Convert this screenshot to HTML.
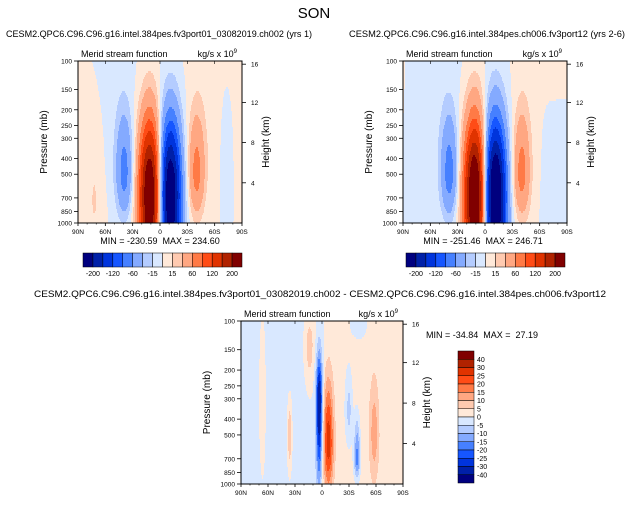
<!DOCTYPE html>
<html><head><meta charset="utf-8">
<style>
html,body{margin:0;padding:0;background:#fff;}
body{width:628px;height:504px;overflow:hidden;font-family:"Liberation Sans",sans-serif;}
svg text{font-family:"Liberation Sans",sans-serif;fill:#000;white-space:pre;}
</style></head>
<body>
<svg id="fig" width="628" height="504" viewBox="0 0 628 504" xmlns="http://www.w3.org/2000/svg">
<text x="314" y="18" font-size="15" text-anchor="middle">SON</text>
</svg>
<script>
// ---- data ----
const pressureTicks = [100,150,200,250,300,400,500,700,850,1000];
const heightTicks = [16,12,8,4];
const latTickValues = [90,60,30,0,-30,-60,-90];
const latTickLabels = ["90N","60N","30N","0","30S","60S","90S"];
const levelsAbs = [-200,-160,-120,-90,-60,-30,-15,0,15,30,60,90,120,160,200];
const levelLabelsAbs = ["-200","-120","-60","-15","15","60","120","200"];
const levelsDiff = [-40,-30,-25,-20,-15,-10,-5,0,5,10,15,20,25,30,40];
const levelLabelsDiff = ["40","30","25","20","15","10","5","0","-5","-10","-15","-20","-25","-30","-40"];
const palette = ["#00007f","#0020a8","#0034dc","#1656ff","#4680ff","#84aaff","#b4ccff","#d9e8ff","#ffe9d9","#ffcab0","#ffa782","#ff7a46","#ff4c16","#e03300","#b02200","#800000"];
// lobes: latitude centre, z centre (0=100mb,1=1000mb), amplitude, lat half-width, upward / downward z widths
const lobeLat1 = [11,-11,39,-40,45,-48,72,-72];
const lobeZ1   = [0.82,0.82,0.7,0.7,0.55,0.5,0.85,0.65];
const lobeAmp1 = [262,-258,-68,68,-7,7,16,-14];
const lobeW1   = [12,12,9,9,18,22,10,5];
const lobeUp1  = [0.45,0.45,0.36,0.36,3,3,0.45,0.35];
const lobeDn1  = [0.6,0.6,0.25,0.25,0.35,0.35,0.4,0.25];
const lobeLat2 = [11,-11,39,-40,55,-45,92,-82,-82];
const lobeZ2   = [0.82,0.82,0.7,0.7,0.5,0.5,0.0,0.0,0.75];
const lobeAmp2 = [275,-280,-72,68,-7,7,12,10,-15];
const lobeW2   = [12,12,9,9,30,15,3,15,15];
const lobeUp2  = [0.45,0.45,0.36,0.36,3,3,0.3,0.3,0.5];
const lobeDn2  = [0.6,0.6,0.25,0.25,0.5,0.5,0.3,0.3,0.8];
const lobeLatD = [50,-55,66,36,14,3,-7,-30,-39,-58,-42];
const lobeZD   = [0.5,0.5,0.5,0.7,0.15,0.5,0.75,0.55,0.85,0.7,0.0];
const lobeAmpD = [-4,4,8,12,9,-38,28,-9,-20,11,-8];
const lobeWD   = [40,35,4,3,6,3.5,6,4,3.5,4,10];
const lobeUpD  = [5,5,0.6,0.25,0.2,0.28,0.4,0.25,0.25,0.25,0.1];
const lobeDnD  = [5,5,0.5,0.25,0.25,0.45,0.3,0.2,0.12,0.2,0.12];
const stats = ["MIN = -230.59  MAX = 234.60","MIN = -251.46  MAX = 246.71","MIN = -34.84  MAX =  27.19"];

const NS="http://www.w3.org/2000/svg";
const svg=document.getElementById('fig');
function mk(tag,attrs,parent){const e=document.createElementNS(NS,tag);for(const k in attrs)e.setAttribute(k,attrs[k]);(parent||svg).appendChild(e);return e;}

function panel(px,py,pw,ph,title,tx,tl,lat,z,amp,w,hu,hd,levels,name){
  const g=mk('g',{});
  
  
  const xS=l=>px+(90-l)/180*pw;
  const yS=p=>py+Math.log(p/100)/Math.log(10)*ph;
  const val=(la,zz)=>{let s=0;for(let i=0;i<lat.length;i++){const hh=zz<z[i]?hu[i]:hd[i];s+=amp[i]*Math.exp(-Math.pow((la-lat[i])/w[i],2)-Math.pow((zz-z[i])/hh,2));}return s;};
  const cls=v=>{let k=0;while(k<levels.length&&v>=levels[k])k++;return k;};
  const field=mk('g',{},g);
  
  
  const cw=1,ch=2;
  for(let yy=0;yy<ph;yy+=ch){
    const zz=(yy+ch/2)/ph;
    let start=0,prev=-1;
    for(let xx=0;xx<=pw;xx+=cw){
      let c=-2;
      if(xx<pw){const la=90-(xx+cw/2)/pw*180;c=cls(val(la,zz));}
      if(c!==prev){
        if(prev>=0){const r=mk('rect',{x:px+start,y:py+yy,width:xx-start+0.5,height:Math.min(ch+0.5,ph-yy),fill:palette[prev]},field);
          }
        start=xx;prev=c;}
    }
  }
  const fr=mk('rect',{x:px,y:py,width:pw,height:ph,fill:'none',stroke:'#000','stroke-width':1},g);
  
  pressureTicks.forEach(p=>{const y=yS(p);mk('line',{x1:px-4,x2:px,y1:y,y2:y,stroke:'#000','stroke-width':0.8},g);
    const t=mk('text',{x:px-6,y:y+2.5,'font-size':6.5,'text-anchor':'end'},g);t.textContent=p;
    });
  heightTicks.forEach(hk=>{const p=1000*Math.exp(-hk/7);const y=yS(p)+ (hk===16?2:0);
    mk('line',{x1:px+pw,x2:px+pw+4,y1:y,y2:y,stroke:'#000','stroke-width':0.8},g);
    const t=mk('text',{x:px+pw+9,y:y+2.5,'font-size':6.5},g);t.textContent=hk;
    });
  latTickValues.forEach((l,i)=>{const x=xS(l);mk('line',{x1:x,x2:x,y1:py+ph,y2:py+ph+3,stroke:'#000','stroke-width':0.8},g);
    mk('line',{x1:x,x2:x,y1:py,y2:py+3,stroke:'#000','stroke-width':0.6},g);
    const t=mk('text',{x:x,y:py+ph+11,'font-size':6.5,'text-anchor':'middle'},g);t.textContent=latTickLabels[i];
    });
  for(let l=80;l>-90;l-=10){if(l%30===0)continue;const x=xS(l);mk('line',{x1:x,x2:x,y1:py+ph,y2:py+ph+1.5,stroke:'#000','stroke-width':0.6},g);}
  let t=mk('text',{x:px-31,y:py+ph/2,'font-size':10,'text-anchor':'middle',transform:`rotate(-90 ${px-31} ${py+ph/2})`},g);t.textContent='Pressure (mb)';
  
  t=mk('text',{x:px+pw+27,y:py+ph/2,'font-size':10,'text-anchor':'middle',transform:`rotate(-90 ${px+pw+27} ${py+ph/2})`},g);t.textContent='Height (km)';
  
  t=mk('text',{x:px+3,y:py-4,'font-size':9},g);t.textContent='Merid stream function';
  
  t=mk('text',{x:px+pw-5,y:py-4,'font-size':9,'text-anchor':'end'},g);t.innerHTML='kg/s x 10<tspan dy="-4" font-size="6">9</tspan>';
  
  t=mk('text',{x:tx,y:py-24,'font-size':9.5,'text-anchor':'middle',textLength:tl,lengthAdjust:'spacingAndGlyphs'},g);t.textContent=title;
  
}
function hbar(x,y,w,h,labels,name){
  const g=mk('g',{});
  const bw=w/palette.length;
  palette.forEach((c,i)=>{const r=mk('rect',{x:x+i*bw,y:y,width:bw,height:h,fill:c,stroke:'#000','stroke-width':0.5},g);
    });
  labels.forEach((lb,i)=>{const t=mk('text',{x:x+(2*i+1)*bw,y:y+h+9,'font-size':7,'text-anchor':'middle'},g);t.textContent=lb;
    });
}
function vbar(x,y,w,h,labels,name){
  const g=mk('g',{});
  const bh=h/palette.length;
  palette.slice().reverse().forEach((c,i)=>{const r=mk('rect',{x:x,y:y+i*bh,width:w,height:bh,fill:c,stroke:'#000','stroke-width':0.5},g);
    });
  labels.forEach((lb,i)=>{const t=mk('text',{x:x+w+3,y:y+(i+1)*bh+2.5,'font-size':7},g);t.textContent=lb;
    });
}
function stat(x,y,s,anchor){const t=mk('text',{x:x,y:y,'font-size':9,'text-anchor':anchor});t.textContent=s;
  }

panel(78,61,164,162,'CESM2.QPC6.C96.C96.g16.intel.384pes.fv3port01_03082019.ch002 (yrs 1)',159,306,lobeLat1,lobeZ1,lobeAmp1,lobeW1,lobeUp1,lobeDn1,levelsAbs,'panel-control');
stat(160,244,stats[0],'middle');
hbar(83,253,159,14,levelLabelsAbs,'colorbar-control');
panel(403,61,164,162,'CESM2.QPC6.C96.C96.g16.intel.384pes.ch006.fv3port12 (yrs 2-6)',487,276,lobeLat2,lobeZ2,lobeAmp2,lobeW2,lobeUp2,lobeDn2,levelsAbs,'panel-test');
stat(483,244,stats[1],'middle');
hbar(406,253,159,14,levelLabelsAbs,'colorbar-test');
panel(241,321,162,163,'CESM2.QPC6.C96.C96.g16.intel.384pes.fv3port01_03082019.ch002 - CESM2.QPC6.C96.C96.g16.intel.384pes.ch006.fv3port12',320,572,lobeLatD,lobeZD,lobeAmpD,lobeWD,lobeUpD,lobeDnD,levelsDiff,'panel-difference');
stat(426,338,stats[2],'start');
vbar(458,351,16,132,levelLabelsDiff,'colorbar-difference');
</script>
</body></html>
